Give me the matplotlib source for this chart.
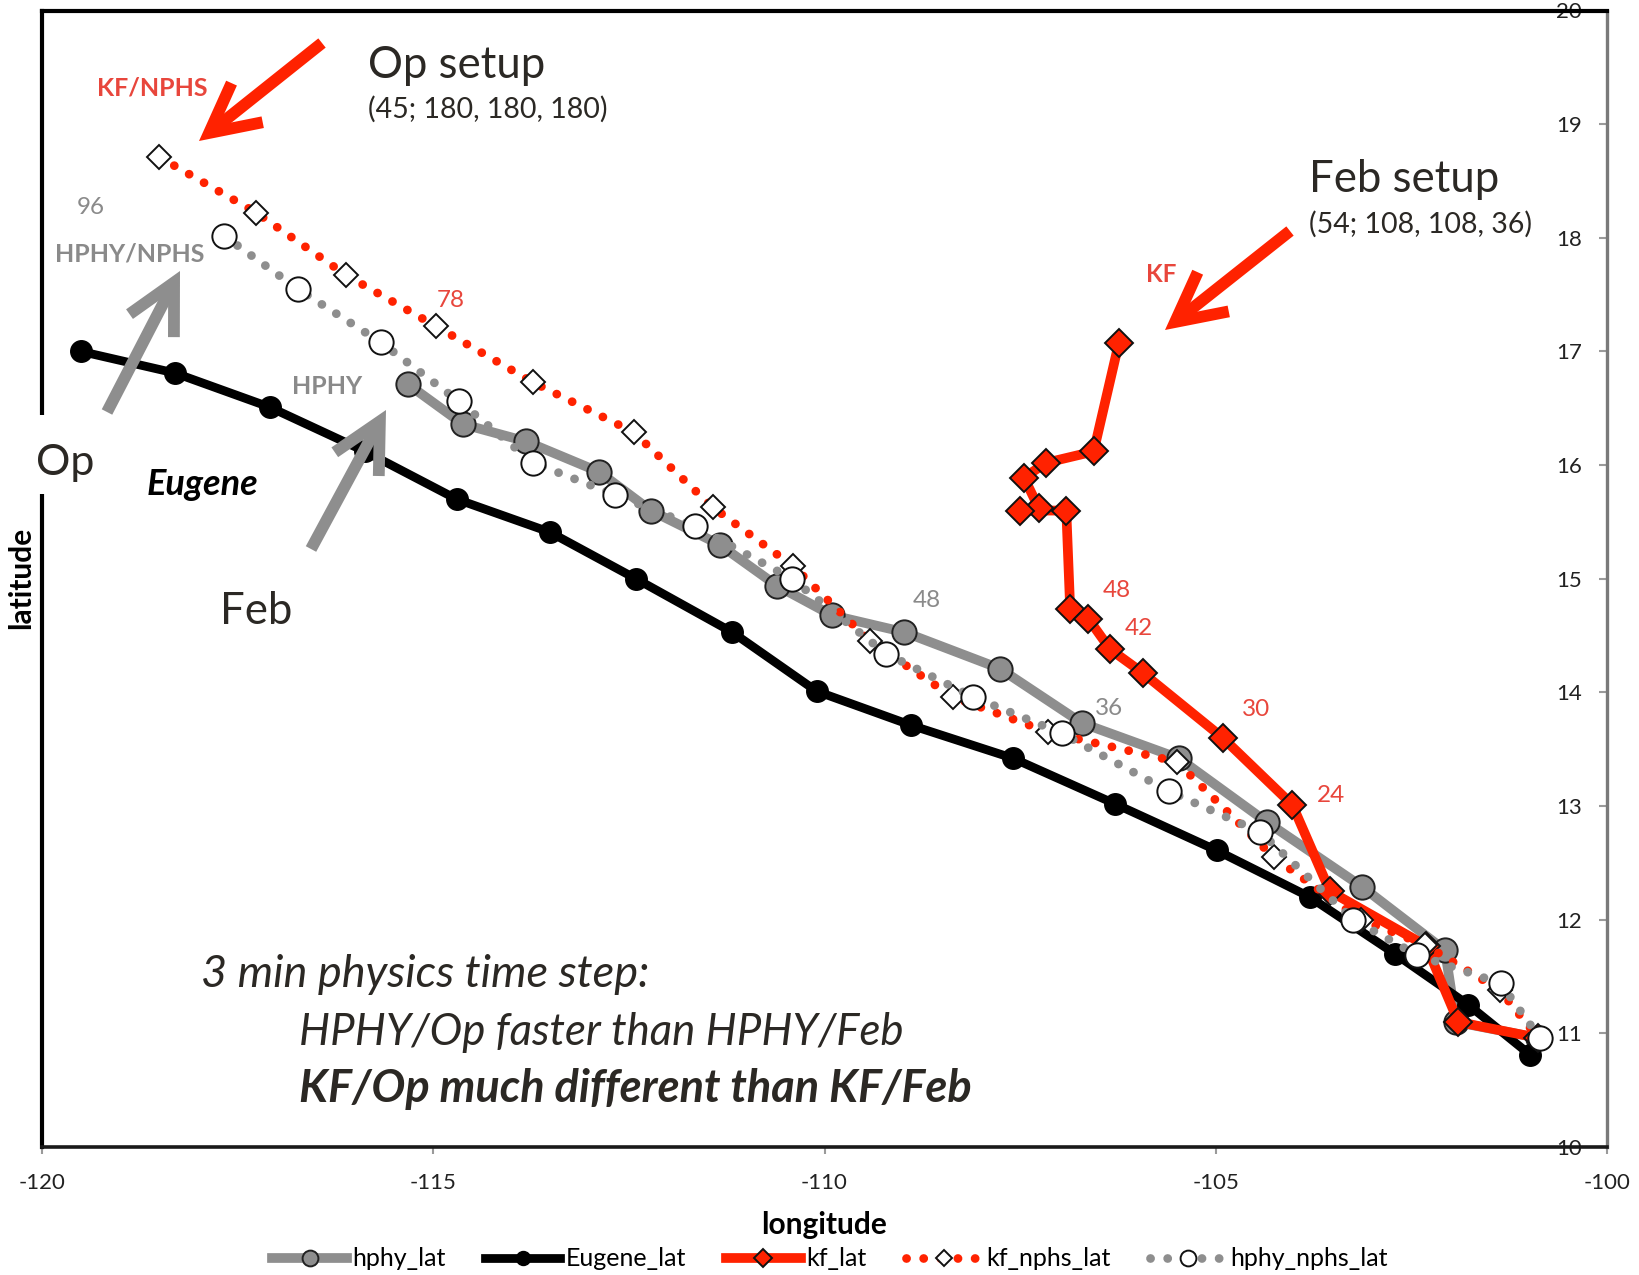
import matplotlib
matplotlib.use("Agg")
import matplotlib.pyplot as plt
from matplotlib.patches import FancyArrowPatch, Rectangle

plt.rcParams['font.family'] = ['Lato', 'DejaVu Sans']
plt.rcParams['axes.unicode_minus'] = False

# ---------------- data ----------------
eugene_lon = [-119.50, -118.30, -117.09, -115.87, -114.70, -113.51, -112.41, -111.18, -110.10,
              -108.89, -107.59, -106.29, -104.99, -103.80, -102.71, -101.77, -100.98]
eugene_lat = [17.00, 16.81, 16.51, 16.12, 15.70, 15.41, 15.00, 14.53, 14.01,
              13.71, 13.42, 13.02, 12.61, 12.20, 11.70, 11.25, 10.81]

hphy_lon = [-115.32, -114.62, -113.82, -112.88, -112.22, -111.34, -110.61, -109.91, -108.98,
            -107.76, -106.71, -105.47, -104.35, -103.13, -102.07, -101.93, -100.88]
hphy_lat = [16.71, 16.36, 16.21, 15.94, 15.60, 15.30, 14.94, 14.68, 14.53,
            14.21, 13.73, 13.42, 12.86, 12.29, 11.73, 11.10, 10.96]

kf_lon = [-106.24, -106.56, -107.17, -107.45, -107.26, -107.50, -106.91, -106.86, -106.63,
          -106.35, -105.93, -104.91, -104.02, -103.54, -102.31, -101.90, -100.88]
kf_lat = [17.07, 16.12, 16.02, 15.89, 15.62, 15.60, 15.60, 14.73, 14.65,
          14.38, 14.17, 13.60, 13.01, 12.25, 11.77, 11.10, 10.96]

kf_nphs_lon = [-118.50, -117.26, -116.11, -114.96, -113.73, -112.44, -111.43, -110.40, -109.42,
               -108.36, -107.14, -105.50, -104.26, -103.15, -102.33, -101.37, -100.88]
kf_nphs_lat = [18.71, 18.22, 17.67, 17.22, 16.73, 16.29, 15.63, 15.11, 14.45,
               13.96, 13.65, 13.39, 12.55, 12.00, 11.78, 11.38, 10.96]

hphy_nphs_lon = [-117.68, -116.73, -115.67, -114.67, -113.72, -112.68, -111.65, -110.42, -109.21,
                 -108.10, -106.97, -105.60, -104.43, -103.24, -102.43, -101.36, -100.86]
hphy_nphs_lat = [18.02, 17.55, 17.08, 16.56, 16.02, 15.74, 15.46, 15.00, 14.34,
                 13.96, 13.64, 13.13, 12.77, 12.00, 11.69, 11.44, 10.96]

series_names = ['hphy_lat', 'Eugene_lat', 'kf_lat', 'kf_nphs_lat', 'hphy_nphs_lat']
x_ticks = [-120, -115, -110, -105, -100]
y_ticks = [10, 11, 12, 13, 14, 15, 16, 17, 18, 19, 20]

# ---------------- figure ----------------
W, H = 1639, 1275
fig = plt.figure(figsize=(W / 100, H / 100), dpi=100)
ax = fig.add_axes([42 / W, 1 - 1147 / H, 1565 / W, 1136.5 / H])

GRAY = '#8e8e8e'
RED = '#ff2200'
TXT = '#2b2824'
RTXT = '#e8463c'
GTXT = '#8a8a8a'

dot_style = (0, (0.01, 1.95))

l1, = ax.plot(hphy_lon, hphy_lat, color=GRAY, lw=7, marker='o', ms=17.5,
              mfc=GRAY, mec='#222222', mew=1.4, solid_joinstyle='round', zorder=3,
              label=series_names[0])
l2, = ax.plot(eugene_lon, eugene_lat, color='black', lw=6.3, marker='o', ms=15.5,
              mfc='black', mec='black', solid_joinstyle='round', zorder=4,
              label=series_names[1])
l3, = ax.plot(kf_lon, kf_lat, color=RED, lw=7, marker='D', ms=14,
              mfc=RED, mec='#111111', mew=1.4, solid_joinstyle='round', zorder=5,
              label=series_names[2])
l4, = ax.plot(kf_nphs_lon, kf_nphs_lat, color=RED, lw=6.3, linestyle=dot_style,
              dash_capstyle='round', marker='D', ms=12.5, mfc='white', mec='#111111',
              mew=1.4, markevery=slice(0, len(kf_nphs_lon) - 1), zorder=6,
              label=series_names[3])
l5, = ax.plot(hphy_nphs_lon, hphy_nphs_lat, color=GRAY, lw=6.3, linestyle=dot_style,
              dash_capstyle='round', marker='o', ms=17.5, mfc='white', mec='#111111',
              mew=1.4, zorder=7, label=series_names[4])

ax.set_xlim(-120, -100)
ax.set_ylim(10, 20)
ax.set_xticks(x_ticks)
ax.set_xticklabels([str(v) for v in x_ticks])
ax.set_yticks(y_ticks)
ax.set_yticklabels([str(v) for v in y_ticks])

ax.yaxis.set_ticks_position('right')
ax.tick_params(axis='y', direction='in', length=6, width=1.5, color='#9a9a9a',
               labelsize=16, labelcolor='#222222', pad=-18)
for lab in ax.get_yticklabels():
    lab.set_horizontalalignment('right')
ax.tick_params(axis='x', direction='out', length=5, width=1.5, color='#9a9a9a',
               labelsize=16, labelcolor='#222222', pad=14)

for side in ['left', 'top']:
    ax.spines[side].set_linewidth(3)
    ax.spines[side].set_color('black')
ax.spines['bottom'].set_linewidth(2.6)
ax.spines['bottom'].set_color('#1a1a1a')
ax.spines['right'].set_linewidth(2.4)
ax.spines['right'].set_color('#7a7a7a')

fig.text(21 / W, 1 - 578 / H, 'latitude', rotation=90, ha='center', va='center',
         fontsize=21.5, fontweight='bold', color='black')
fig.text(824 / W, 1 - 1225 / H, 'longitude', ha='center', va='center',
         fontsize=21.5, fontweight='bold', color='black')

fig.legend(handles=[l1, l2, l3, l4, l5], loc='center', bbox_to_anchor=(830 / W, 1 - 1259 / H),
           ncol=5, frameon=False, fontsize=18, handlelength=3.0, handletextpad=0.2,
           columnspacing=1.6, markerscale=0.65, borderaxespad=0)


def ftxt(x, y, s, **kw):
    kw.setdefault('ha', 'left')
    kw.setdefault('va', 'baseline')
    return fig.text(x / W, 1 - y / H, s, **kw)


# white gap in the left spine behind "Op"
fig.add_artist(Rectangle((30 / W, 1 - 494 / H), 30 / W, 79 / H, transform=fig.transFigure,
                         facecolor='white', edgecolor='none', zorder=5))

ftxt(97, 96, 'KF/NPHS', fontsize=18, fontweight='bold', color=RTXT, zorder=6)
ftxt(368, 78, 'Op setup', fontsize=31.5, color=TXT, zorder=6)
ftxt(368, 118, '(45; 180, 180, 180)', fontsize=20.5, color=TXT, zorder=6)
ftxt(77, 214, '96', fontsize=17.5, color=GTXT, zorder=6)
ftxt(55, 261, 'HPHY/NPHS', fontsize=18, fontweight='bold', color=GTXT, zorder=6)
ftxt(437, 307, '78', fontsize=17.5, color=RTXT, zorder=6)
ftxt(292, 394, 'HPHY', fontsize=18, fontweight='bold', color=GTXT, zorder=6)
ftxt(36, 475, 'Op', fontsize=31, color=TXT, zorder=6)
ftxt(147, 495, 'Eugene', fontsize=26, fontweight='bold', fontstyle='italic', color='black',
     zorder=6)
ftxt(220, 624, 'Feb', fontsize=31.5, color=TXT, zorder=6)
ftxt(1309, 192, 'Feb setup', fontsize=31.5, color=TXT, zorder=6)
ftxt(1309, 233, '(54; 108, 108, 36)', fontsize=20.5, color=TXT, zorder=6)
ftxt(1146, 282, 'KF', fontsize=17.5, fontweight='bold', color=RTXT, zorder=6)
ftxt(913, 607, '48', fontsize=17.5, color=GTXT, zorder=6)
ftxt(1103, 597, '48', fontsize=17.5, color=RTXT, zorder=6)
ftxt(1125, 635, '42', fontsize=17.5, color=RTXT, zorder=6)
ftxt(1095, 715, '36', fontsize=17.5, color=GTXT, zorder=6)
ftxt(1242, 716, '30', fontsize=17.5, color=RTXT, zorder=6)
ftxt(1317, 802, '24', fontsize=17.5, color=RTXT, zorder=6)
ftxt(201, 987, '3 min physics time step:', fontsize=32.5, fontstyle='italic', color=TXT,
     zorder=6)
ftxt(299, 1045, 'HPHY/Op faster than HPHY/Feb', fontsize=31.5, fontstyle='italic', color=TXT,
     zorder=6)
ftxt(299, 1102, 'KF/Op much different than KF/Feb', fontsize=32.5, fontstyle='italic',
     fontweight='bold', color=TXT, zorder=6)


def farrow(x0, y0, x1, y1, color):
    a = FancyArrowPatch((x0 / W, 1 - y0 / H), (x1 / W, 1 - y1 / H),
                        transform=fig.transFigure,
                        arrowstyle='->,head_length=1.75,head_width=0.9',
                        mutation_scale=20, lw=8.5, color=color,
                        shrinkA=0, shrinkB=0, capstyle='butt', joinstyle='miter')
    fig.add_artist(a)


farrow(322, 43, 199, 141, RED)
farrow(1290, 231, 1165, 330, RED)
farrow(107, 412, 180, 271, GRAY)
farrow(311, 549, 386, 410, GRAY)

fig.savefig('out.png', dpi=100)
